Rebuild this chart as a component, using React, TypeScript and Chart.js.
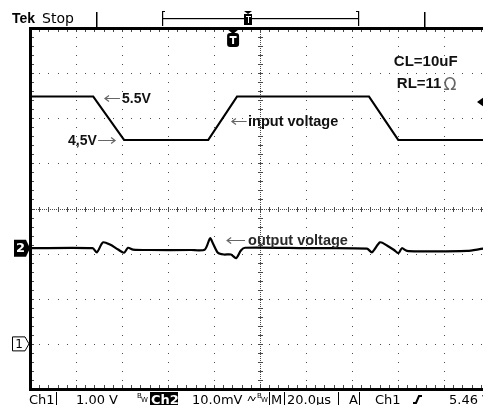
import React, { useEffect, useRef } from "react";
import { Chart, registerables } from "chart.js";

Chart.register(...registerables);

// ---- Data (time in µs, Ch1 in V, Ch2 in mV relative to its ground marker) ----
const inputTimeUs = [-100, -72.5, -59.1, -22.5, -10.0, 47.4, 60.1, 100];
const inputVolts = [5.48, 5.48, 4.52, 4.52, 5.48, 5.48, 4.52, 4.52];

const outputTimeUs = [
  -100, -72.8, -70.9, -68.3, -65.2, -61.7, -59.1, -57.4, -55.2, -48, -30, -24,
  -21.7, -20.4, -18.3, -15.7, -12.6, -10.4, -8.3, -6.5, 20, 46.5, 48.7, 52.2,
  55.2, 58.3, 60.2, 61.7, 63.9, 70, 90, 97, 100,
];
const outputMilliVolts = [
  0, 0, -0.9, 1.3, 0.8, -0.3, -1.0, 0.1, -0.3, -0.4, -0.4, -0.3,
  2.2, 1.0, -1.0, -1.4, -1.4, -2.2, -0.5, 0.1, 0.0, -0.1, -0.9, 1.3,
  0.6, -0.4, -1.1, 0.0, -0.6, -0.7, -0.6, -0.1, 0,
];

// Annotation texts (anchored in data coordinates of Ch1 / Ch2)
const annotationTexts = ["5.5V", "4,5V", "input voltage", "output voltage", "CL=10uF", "RL=11"];
const annotationTimes = [-60, -83.5, -5.2, -5.2, 58.2, 59.5];
const annotationValues = [5.43, 4.5, 4.92, 1.6, 6.25, 5.77];
const annotationAxes = ["y1", "y1", "y1", "y2", "y1", "y1"];
const annotationSizes = [14, 14, 14.5, 14.5, 15, 15];

// Status line texts
const statusTexts = ["Ch1", "1.00 V", "Ch2", "10.0mV", "M", "20.0µs", "A", "Ch1", "5.46 V"];

const X_MIN = -100;
const X_MAX = 100;
const CH1_MIN = -1;
const CH1_MAX = 7;
const CH2_MIN = -31.2;
const CH2_MAX = 48.8;

const scopePlugin = {
  id: "scopeDecor",
  beforeDatasetsDraw(chart: any) {
    const ctx = chart.ctx as CanvasRenderingContext2D;
    const xs = chart.scales.x;
    const y1 = chart.scales.y1;
    const a = chart.chartArea;
    ctx.save();
    ctx.fillStyle = "#4a4a4a";
    const minorX: number[] = [];
    for (let i = 0; i <= 50; i++) minorX.push(X_MIN + i * 4);
    const minorY: number[] = [];
    for (let i = 0; i <= 40; i++) minorY.push(CH1_MIN + i * 0.2);
    // dotted major horizontal lines
    for (const v of [0, 1, 2, 4, 5, 6]) {
      const py = Math.round(y1.getPixelForValue(v));
      for (const t of minorX) {
        const px = Math.round(xs.getPixelForValue(t));
        ctx.fillRect(px, py, 1, 1);
      }
    }
    // dotted major vertical lines
    for (const t of [-80, -60, -40, -20, 20, 40, 60, 80]) {
      const px = Math.round(xs.getPixelForValue(t));
      for (const v of minorY) {
        const py = Math.round(y1.getPixelForValue(v));
        ctx.fillRect(px, py, 1, 1);
      }
    }
    // center crosshair
    const cx = Math.round(xs.getPixelForValue(0));
    const cy = Math.round(y1.getPixelForValue(3));
    for (let py = Math.round(a.top); py < a.bottom; py += 2) ctx.fillRect(cx, py, 1, 1);
    for (let px = Math.round(a.left); px < a.right; px += 2) ctx.fillRect(px, cy, 1, 1);
    for (const v of minorY) {
      const py = Math.round(y1.getPixelForValue(v));
      ctx.fillRect(cx - 2, py, 5, 1);
      ctx.fillRect(Math.round(a.left) + 1, py, 3, 1);
    }
    for (const t of minorX) {
      const px = Math.round(xs.getPixelForValue(t));
      ctx.fillRect(px, cy - 2, 1, 5);
      ctx.fillRect(px, Math.round(a.top) + 1, 1, 3);
      ctx.fillRect(px, Math.round(a.bottom) - 4, 1, 3);
    }
    ctx.restore();
  },
  afterDatasetsDraw(chart: any) {
    const ctx = chart.ctx as CanvasRenderingContext2D;
    const xs = chart.scales.x;
    const y1 = chart.scales.y1;
    const y2 = chart.scales.y2;
    const a = chart.chartArea;
    ctx.save();
    // frame
    ctx.fillStyle = "#000";
    ctx.fillRect(a.left - 1, a.top - 1, a.right - a.left + 2, 3);
    ctx.fillRect(a.left - 1, a.top - 1, 3, a.bottom - a.top + 3);
    ctx.fillRect(a.left - 1, a.bottom - 1, a.right - a.left + 2, 3);

    // top record bar
    const cx = xs.getPixelForValue(0);
    ctx.fillRect(Math.round(cx - 164), 12, 1.5, 15);
    ctx.fillRect(Math.round(cx + 164), 12, 1.5, 15);
    ctx.fillRect(Math.round(cx - 98), 11, 1.2, 15);
    ctx.fillRect(Math.round(cx + 98), 11, 1.2, 15);
    ctx.fillRect(Math.round(cx - 98), 11, 3, 1);
    ctx.fillRect(Math.round(cx + 96), 11, 3, 1);
    ctx.fillRect(Math.round(cx - 98), 18, 196, 1.2);
    // record trigger position marker
    const rx = Math.round(cx - 12);
    ctx.beginPath();
    ctx.moveTo(rx - 4, 11);
    ctx.lineTo(rx + 4, 11);
    ctx.lineTo(rx, 14);
    ctx.closePath();
    ctx.fill();
    ctx.fillRect(rx - 4, 14, 8, 11);
    ctx.fillStyle = "#fff";
    ctx.fillRect(rx - 2, 16, 5, 1);
    ctx.fillRect(rx, 16, 1, 7);

    // trigger marker below the top border
    const tx = xs.getPixelForValue(-11.7);
    ctx.fillStyle = "#000";
    ctx.beginPath();
    ctx.moveTo(tx - 6, 29);
    ctx.lineTo(tx + 6, 29);
    ctx.lineTo(tx, 34);
    ctx.closePath();
    ctx.fill();
    ctx.beginPath();
    ctx.roundRect(tx - 6, 33, 12, 14, 3);
    ctx.fill();
    ctx.fillStyle = "#fff";
    ctx.fillRect(tx - 3.5, 36, 7, 2);
    ctx.fillRect(tx - 1, 36, 2, 8);

    // trigger level marker (right edge)
    const ly = y1.getPixelForValue(5.36);
    ctx.fillStyle = "#000";
    ctx.beginPath();
    ctx.moveTo(477, ly);
    ctx.lineTo(484, ly - 5);
    ctx.lineTo(484, ly + 5);
    ctx.closePath();
    ctx.fill();

    // channel 2 marker
    const m2 = y2.getPixelForValue(0);
    ctx.beginPath();
    ctx.moveTo(14, m2 - 8.5);
    ctx.lineTo(26, m2 - 8.5);
    ctx.lineTo(30, m2);
    ctx.lineTo(26, m2 + 8.5);
    ctx.lineTo(14, m2 + 8.5);
    ctx.closePath();
    ctx.fill();
    ctx.fillStyle = "#fff";
    ctx.font = "bold 13px 'DejaVu Sans'";
    ctx.textAlign = "center";
    ctx.textBaseline = "middle";
    ctx.fillText("2", 20.5, m2 + 0.5);

    // channel 1 marker
    const m1 = y1.getPixelForValue(0);
    ctx.fillStyle = "#fff";
    ctx.strokeStyle = "#000";
    ctx.lineWidth = 1;
    ctx.beginPath();
    ctx.moveTo(12.5, m1 - 7);
    ctx.lineTo(25, m1 - 7);
    ctx.lineTo(29, m1);
    ctx.lineTo(25, m1 + 7);
    ctx.lineTo(12.5, m1 + 7);
    ctx.closePath();
    ctx.fill();
    ctx.stroke();
    ctx.fillStyle = "#000";
    ctx.font = "12px 'DejaVu Sans'";
    ctx.fillText("1", 19, m1 + 0.5);

    // annotations
    ctx.textAlign = "left";
    ctx.textBaseline = "middle";
    annotationTexts.forEach((txt, i) => {
      const sc = annotationAxes[i] === "y2" ? y2 : y1;
      const px = xs.getPixelForValue(annotationTimes[i]);
      const py = sc.getPixelForValue(annotationValues[i]);
      ctx.font = `bold ${annotationSizes[i]}px 'Liberation Sans'`;
      ctx.fillStyle = i === 3 ? "#2a2a2a" : "#111";
      ctx.fillText(txt, px, py);
      if (txt === "RL=11") {
        const w = ctx.measureText(txt).width;
        ctx.font = "17px 'DejaVu Sans'";
        ctx.fillStyle = "#666";
        ctx.textBaseline = "alphabetic";
        ctx.fillText("Ω", px + w + 2, py + 6);
        ctx.textBaseline = "middle";
      }
    });

    // arrows
    const arrow = (t0: number, t1: number, v: number, sc: any, headAtStart: boolean) => {
      const x0 = xs.getPixelForValue(t0);
      const x1 = xs.getPixelForValue(t1);
      const py = Math.round(sc.getPixelForValue(v)) + 0.5;
      ctx.strokeStyle = "#666";
      ctx.lineWidth = 1.2;
      ctx.beginPath();
      ctx.moveTo(x0, py);
      ctx.lineTo(x1, py);
      const hx = headAtStart ? x0 : x1;
      const d = headAtStart ? 4 : -4;
      ctx.moveTo(hx + d, py - 3);
      ctx.lineTo(hx, py);
      ctx.lineTo(hx + d, py + 3);
      ctx.stroke();
    };
    arrow(-67.4, -60.9, 5.45, y1, true);
    arrow(-70.4, -63, 4.52, y1, false);
    arrow(-12.2, -5.8, 4.93, y1, true);
    arrow(-14.3, -6.5, 1.8, y2, true);

    // top-left status
    ctx.fillStyle = "#000";
    ctx.textBaseline = "alphabetic";
    ctx.font = "bold 14px 'Liberation Sans'";
    ctx.fillText("Tek", 12, 23);
    ctx.font = "14px 'DejaVu Sans'";
    ctx.fillText("Stop", 42, 23);

    // bottom status line
    const by = 404;
    ctx.font = "13px 'DejaVu Sans'";
    ctx.fillText(statusTexts[0], 29, by);
    ctx.fillRect(56, 392, 1, 13);
    ctx.fillText(statusTexts[1], 76, by);
    ctx.font = "7px 'DejaVu Sans'";
    ctx.fillText("B", 137, 398);
    ctx.fillText("W", 141, 402);
    ctx.fillRect(150, 392, 28, 13);
    ctx.fillStyle = "#fff";
    ctx.font = "bold 13px 'DejaVu Sans'";
    ctx.fillText(statusTexts[2], 151, by);
    ctx.fillStyle = "#000";
    ctx.font = "13px 'DejaVu Sans'";
    ctx.fillText(statusTexts[3], 192, by);
    // AC coupling symbol
    ctx.strokeStyle = "#000";
    ctx.lineWidth = 1;
    ctx.beginPath();
    ctx.moveTo(248, 401);
    ctx.lineTo(250.5, 396);
    ctx.lineTo(253, 401);
    ctx.lineTo(255.5, 397);
    ctx.stroke();
    ctx.font = "7px 'DejaVu Sans'";
    ctx.fillText("B", 257, 398);
    ctx.fillText("W", 261, 402);
    ctx.fillRect(269, 392, 1, 13);
    ctx.font = "13px 'DejaVu Sans'";
    ctx.fillText(statusTexts[4], 271, by);
    ctx.fillRect(284, 392, 1, 13);
    ctx.fillText(statusTexts[5], 287, by);
    ctx.fillRect(338, 392, 1, 13);
    ctx.fillText(statusTexts[6], 349, by);
    ctx.fillRect(359, 392, 1, 13);
    ctx.fillText(statusTexts[7], 375, by);
    // rising edge symbol
    ctx.lineWidth = 2;
    ctx.beginPath();
    ctx.moveTo(413, 403);
    ctx.lineTo(416, 403);
    ctx.lineTo(419, 396);
    ctx.lineTo(422, 396);
    ctx.stroke();
    ctx.fillText(statusTexts[8], 449, by);
    ctx.restore();
  },
};

export default function App() {
  const ref = useRef<HTMLCanvasElement | null>(null);
  useEffect(() => {
    if (!ref.current) return;
    const inputData = inputTimeUs.map((t, i) => ({ x: t, y: inputVolts[i] }));
    const outputData = outputTimeUs.map((t, i) => ({ x: t, y: outputMilliVolts[i] }));
    const chart = new Chart(ref.current, {
      type: "line",
      data: {
        datasets: [
          {
            label: "input voltage",
            data: inputData,
            yAxisID: "y1",
            borderColor: "#000",
            borderWidth: 2,
            pointRadius: 0,
            tension: 0,
          },
          {
            label: "output voltage",
            data: outputData,
            yAxisID: "y2",
            borderColor: "#000",
            borderWidth: 2.2,
            pointRadius: 0,
            tension: 0.25,
          },
        ],
      },
      options: {
        animation: false,
        responsive: false,
        devicePixelRatio: 1,
        events: [],
        layout: { padding: { left: 30, top: 28, right: 10, bottom: 16 } },
        scales: {
          x: { type: "linear", min: X_MIN, max: X_MAX, display: false },
          y1: { type: "linear", position: "left", min: CH1_MIN, max: CH1_MAX, display: false },
          y2: { type: "linear", position: "right", min: CH2_MIN, max: CH2_MAX, display: false },
        },
        plugins: { legend: { display: false }, tooltip: { enabled: false } },
      },
      plugins: [scopePlugin],
    });
    return () => chart.destroy();
  }, []);
  return (
    <div
      style={{
        position: "fixed",
        left: 0,
        top: 0,
        width: 483,
        height: 405,
        overflow: "hidden",
        background: "#fff",
      }}
    >
      <canvas ref={ref} width={500} height={405} style={{ display: "block", width: 500, height: 405 }} />
    </div>
  );
}
